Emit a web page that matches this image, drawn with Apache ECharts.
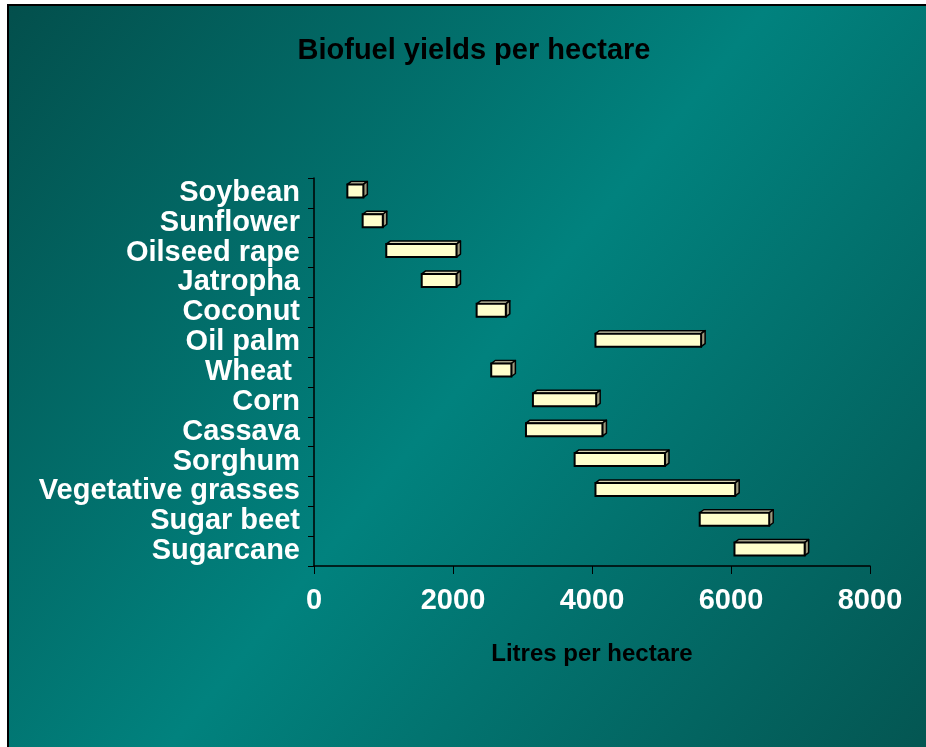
<!DOCTYPE html>
<html>
<head>
<meta charset="utf-8">
<title>Biofuel yields per hectare</title>
<script src="https://cdn.jsdelivr.net/npm/echarts@6/dist/echarts.min.js"></script>
<style>
  html, body { margin: 0; padding: 0; background: #fff; }
  #chart { width: 926px; height: 747px; }
</style>
</head>
<body>
<div id="chart"></div>
<script>
// crops, top to bottom
var crops = ['Soybean', 'Sunflower', 'Oilseed rape', 'Jatropha', 'Coconut', 'Oil palm', 'Wheat ',
  'Corn', 'Cassava', 'Sorghum', 'Vegetative grasses', 'Sugar beet', 'Sugarcane'];
// litres per hectare, low and high end of each range
var lowYield = [480, 700, 1040, 1550, 2340, 4050, 2550, 3150, 3050, 3750, 4050, 5550, 6050];
var highYield = [710, 990, 2050, 2050, 2760, 5570, 2840, 4060, 4150, 5050, 6060, 6550, 7060];
var xTicks = [0, 2000, 4000, 6000, 8000];

var rangeData = crops.map(function (c, i) {
  return [i, lowYield[i], highYield[i]];
});

// 3d-looking box: front face + top + right side
function drawBox(params, api) {
  var a = api.coord([api.value(1), api.value(0)]);
  var b = api.coord([api.value(2), api.value(0)]);
  var h = 13, dx = 4, dy = 3;
  var x0 = a[0], x1 = b[0];
  var y0 = a[1] - h / 2 - 2, y1 = y0 + h;
  return {
    type: 'group',
    children: [
      {
        type: 'polygon',
        shape: { points: [[x0, y0], [x0 + dx, y0 - dy], [x1 + dx, y0 - dy], [x1, y0]] },
        style: { fill: '#d6d2b0', stroke: '#000', lineWidth: 1.5, lineJoin: 'round' }
      },
      {
        type: 'polygon',
        shape: { points: [[x1, y0], [x1 + dx, y0 - dy], [x1 + dx, y1 - dy], [x1, y1]] },
        style: { fill: '#9c987c', stroke: '#000', lineWidth: 1.5, lineJoin: 'round' }
      },
      {
        type: 'rect',
        shape: { x: x0, y: y0, width: x1 - x0, height: h },
        style: { fill: '#ffffcc', stroke: '#000', lineWidth: 2 }
      }
    ]
  };
}

var chart = echarts.init(document.getElementById('chart'));
chart.setOption({
  backgroundColor: '#fff',
  animation: false,
  textStyle: { fontFamily: 'Liberation Sans, Arial, sans-serif' },
  graphic: [{
    type: 'rect',
    z: -10,
    silent: true,
    shape: { x: 8, y: 5, width: 920, height: 744 },
    style: {
      fill: new echarts.graphic.LinearGradient(0, 0, 1, 1, [
        { offset: 0, color: '#034f4c' },
        { offset: 0.5, color: '#01827e' },
        { offset: 1, color: '#045652' }
      ]),
      stroke: '#000',
      lineWidth: 2
    }
  }],
  title: {
    text: 'Biofuel yields per hectare',
    left: 469,
    textAlign: 'center',
    top: 31,
    textStyle: { color: '#000', fontSize: 29, fontWeight: 'bold' }
  },
  grid: { left: 314, right: 56, top: 178, bottom: 181, containLabel: false },
  xAxis: {
    type: 'value',
    min: 0,
    max: 8000,
    interval: 2000,
    name: 'Litres per hectare',
    nameLocation: 'middle',
    nameGap: 76,
    nameTextStyle: { color: '#000', fontSize: 24, fontWeight: 'bold' },
    axisLine: { show: true, lineStyle: { color: '#000', width: 1.5 } },
    axisTick: { show: true, length: 8, lineStyle: { color: '#000' } },
    axisLabel: {
      color: '#fff', fontSize: 29, fontWeight: 'bold', margin: 20,
      formatter: function (v) { return xTicks.indexOf(v) >= 0 ? String(v) : ''; }
    },
    splitLine: { show: false }
  },
  yAxis: {
    type: 'category',
    data: crops,
    inverse: true,
    axisLine: { show: true, lineStyle: { color: '#000', width: 1.5 } },
    axisTick: { show: true, length: 6, lineStyle: { color: '#000' } },
    axisLabel: { color: '#fff', fontSize: 29, fontWeight: 'bold', margin: 14, interval: 0, padding: [5, 0, 0, 0] },
    splitLine: { show: false }
  },
  series: [{
    type: 'custom',
    renderItem: drawBox,
    encode: { x: [1, 2], y: 0 },
    data: rangeData
  }]
});
</script>
</body>
</html>
